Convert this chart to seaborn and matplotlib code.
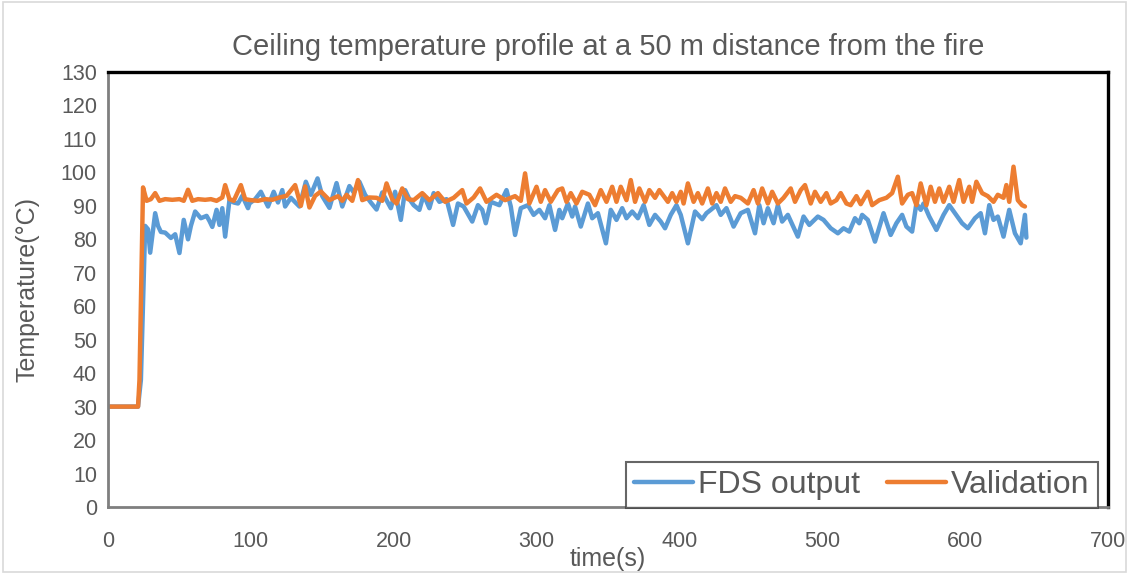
import numpy as np
import pandas as pd
import matplotlib
matplotlib.use("Agg")
import matplotlib.pyplot as plt
import seaborn as sns
from matplotlib.patches import Rectangle

title = "Ceiling temperature profile at a 50 m distance from the fire"
xlabel = "time(s)"
ylabel = "Temperature(°C)"
series_names = ["FDS output", "Validation"]

fds_time = [0, 21, 23, 26, 28, 29.5, 33, 35, 37, 40, 44, 47, 50, 53, 56, 58, 61, 65, 69, 71, 73, 76, 78, 80, 82,
            85, 88, 91, 94, 98, 99, 103, 107, 112, 116, 119, 122, 124, 128, 134, 138.5, 142, 146.7, 150, 155,
            160, 164, 169, 172, 176, 180, 184, 188, 192, 198, 201, 205, 208, 211, 214, 218, 221, 225, 228, 232,
            237, 241.6, 245, 249, 255, 259, 262, 264.5, 268, 274, 279, 282, 285, 289, 294, 298, 302, 306, 309,
            313, 316, 318, 322, 325, 327, 331, 336, 339, 343, 348.6, 352, 356, 360, 363, 367, 371, 375, 379, 383,
            387, 390, 394, 398, 401, 406, 411, 416, 419, 422, 426, 429, 433, 438, 443, 448, 453, 456, 459, 462,
            466, 469, 472, 476, 483, 487, 491, 497, 501, 506, 511, 515, 519, 523, 526, 528, 532, 537, 543, 548,
            552, 556, 559, 563, 566, 569, 571, 575, 580, 585, 589, 593, 598, 602, 607, 611, 614, 617, 620, 623,
            627, 631, 635, 639, 642, 643]
fds_temp = [30, 30, 38, 84, 83, 76, 87.8, 84, 82.2, 82, 80.4, 81.5, 75.9, 85.8, 80, 84, 88.3, 86.3, 87, 85.5, 83.7,
            88.8, 84.3, 89.3, 80.8, 91.7, 91, 90.7, 93, 89.3, 90.7, 92, 94.2, 89.8, 94.2, 91, 94.7, 89.8, 92.4, 89.8,
            97.2, 93.3, 98.2, 92.9, 89.4, 96.8, 89.8, 95.9, 94, 97.2, 93.3, 91, 88.9, 94, 89.3, 94.2, 85.8, 94.7,
            92, 90.2, 88.8, 93.3, 89.3, 93.8, 91.2, 92, 84.3, 90.7, 89.8, 85.3, 90.2, 88.8, 84.8, 91.2, 90.2, 94.7,
            89.8, 81.3, 89.3, 90.2, 87.3, 88.8, 86.3, 90.2, 82.8, 88.8, 86.3, 90.7, 86.8, 89.8, 83.8, 90.7, 86.3,
            87.8, 78.8, 88.8, 85.8, 89.3, 86.3, 88.3, 86.3, 90.2, 84.3, 87.3, 85.3, 83.3, 87.3, 90.2, 87.3, 78.8,
            88.3, 86, 87.8, 88.8, 90.2, 87.3, 89.3, 83.8, 87.8, 88.8, 81.8, 90.2, 84.8, 89.3, 84.8, 90.2, 85.3,
            87.3, 80.8, 86.8, 84.3, 86.8, 85.8, 83.3, 81.8, 83.3, 82.3, 86.3, 84.8, 87.3, 85.8, 79.3, 87.8, 81.3,
            84.8, 87.3, 83.8, 82.3, 90.7, 88.8, 90.7, 86.8, 82.8, 87.3, 90.2, 87.8, 84.8, 83.3, 86.3, 87.8, 81.8,
            90.2, 85.8, 86.8, 80.8, 88.8, 81.8, 78.8, 87.3, 80.5]

val_time = [0, 21, 22, 24.5, 27, 30, 33, 36, 40, 45, 50, 53, 56, 59, 63, 68, 72, 76, 80, 82, 85, 88, 93, 96, 100,
            105, 110, 115, 120, 125, 131, 135, 138, 141, 145, 149, 155, 161, 164, 167, 171, 175, 178, 183, 188,
            192, 195, 199, 202, 206, 210, 214, 220, 225, 231, 236, 242, 248, 251, 256, 260.5, 265, 272, 278, 285,
            289, 292, 295, 300, 303, 306, 310, 315, 318, 321, 324, 328, 332, 337, 341, 345, 349, 353, 356, 359,
            363, 366, 369, 372, 376, 379, 383, 386, 392, 395, 398, 401, 403, 406, 410, 413, 416, 420, 423, 426,
            429, 432, 436, 439, 443, 448, 452, 455, 458, 462, 465, 469, 473, 478, 481, 485, 488, 492, 495, 499,
            503, 506, 510, 513, 517, 520, 524, 527, 532, 535, 540, 545, 549, 553, 556, 560, 563, 566, 569, 573,
            576, 579, 582, 585, 589, 592, 596, 599, 603, 605, 608, 612, 616, 620, 623, 627, 629, 631, 634, 637,
            640, 642]
val_temp = [30, 30, 38, 95.5, 91.5, 92, 93.8, 91.5, 92, 91.8, 92, 91.5, 94.8, 91.5, 92, 91.8, 92, 91.5, 92.5, 96.2,
            92, 91.5, 96.2, 92, 91.7, 91.5, 92, 91.8, 92.5, 93, 96.2, 90, 95.8, 89.5, 93, 94.3, 91.7, 92.9, 91.5,
            93.3, 91.5, 97.7, 91.7, 92.5, 92.4, 91.5, 96.7, 92, 90.7, 95.2, 92, 91.7, 93.8, 91.7, 93.8, 91.2, 92.4,
            94.7, 90.7, 92.5, 95.2, 91.2, 93.3, 91.7, 92.9, 91.5, 99.7, 90.7, 95.7, 91.2, 94.7, 91.2, 94.7, 95.2,
            91.2, 93.8, 90.7, 94.2, 93.3, 90.2, 94.7, 91.2, 95.7, 91.2, 95.7, 91.7, 97.7, 91.2, 95.2, 91.2, 94.7,
            92.4, 94.7, 91.2, 93.8, 91.2, 94.2, 90.7, 96.7, 91.2, 93.8, 90.7, 95.2, 90.7, 93.8, 91.2, 95.2, 91.2,
            92.9, 92.4, 90.7, 94.7, 90.7, 95.2, 90.7, 94.2, 90.7, 92.4, 95.2, 91.2, 94.7, 96.2, 90.7, 94.2, 91.2,
            93.8, 90.7, 91.7, 93.8, 90.7, 90.2, 92.9, 90.5, 94.2, 90.2, 91.7, 92.4, 93.8, 98.7, 90.7, 93.3, 93.8,
            90.2, 96.7, 90.2, 95.7, 91.2, 95.2, 91.2, 95.7, 91.2, 97.7, 91.2, 95.7, 91.2, 97.2, 93.8, 92.9, 91.2,
            93.3, 92.4, 96.2, 91.2, 101.7, 91.7, 90.2, 89.8]

x_ticks = [0, 100, 200, 300, 400, 500, 600, 700]
y_ticks = [0, 10, 20, 30, 40, 50, 60, 70, 80, 90, 100, 110, 120, 130]

df = pd.concat([
    pd.DataFrame({"time": fds_time, "temp": fds_temp, "series": series_names[0]}),
    pd.DataFrame({"time": val_time, "temp": val_temp, "series": series_names[1]}),
], ignore_index=True)

sns.set_theme(style="white")
plt.rcParams["font.family"] = ["Liberation Sans", "DejaVu Sans"]
text_color = "#595959"

fig = plt.figure(figsize=(11.29, 5.74), dpi=100)
ax = fig.add_axes([0.0957, 0.1167, 0.8855, 0.7579])

palette = {series_names[0]: "#5B9BD5", series_names[1]: "#ED7D31"}
sns.lineplot(data=df, x="time", y="temp", hue="series", palette=palette, ax=ax,
             linewidth=3.2, sort=False, estimator=None)

ax.set_xlim(0, 700)
ax.set_ylim(0, 130)
ax.set_xticks(x_ticks)
ax.set_yticks(y_ticks)
ax.tick_params(axis="both", length=0, labelsize=15.5, labelcolor=text_color)
ax.tick_params(axis="x", pad=17)
ax.tick_params(axis="y", pad=8)
ax.set_xlabel(xlabel, fontsize=18, color=text_color, labelpad=-3)
ax.set_ylabel(ylabel, fontsize=18, color=text_color, labelpad=15)
ax.set_title(title, fontsize=21, color=text_color, pad=12)

for side in ["top", "right"]:
    ax.spines[side].set_color("black")
    ax.spines[side].set_linewidth(2.4)
for side in ["left", "bottom"]:
    ax.spines[side].set_color("#7f7f7f")
    ax.spines[side].set_linewidth(2.0)

leg = ax.legend(loc="lower right", fontsize=23, frameon=True, fancybox=False,
                handlelength=1.85, handletextpad=0.15, columnspacing=0.85, ncol=2,
                borderaxespad=0.0, borderpad=0.25, bbox_to_anchor=(0.99, -0.002))
leg.get_frame().set_edgecolor("#404040")
leg.get_frame().set_linewidth(1.5)
for t in leg.get_texts():
    t.set_color(text_color)
for h in leg.get_lines():
    h.set_linewidth(3.2)

fig.patches.append(Rectangle((0.003, 0.003), 0.994, 0.994, transform=fig.transFigure,
                             fill=False, edgecolor="#d9d9d9", linewidth=1.2))

fig.savefig("out.png", dpi=100)
